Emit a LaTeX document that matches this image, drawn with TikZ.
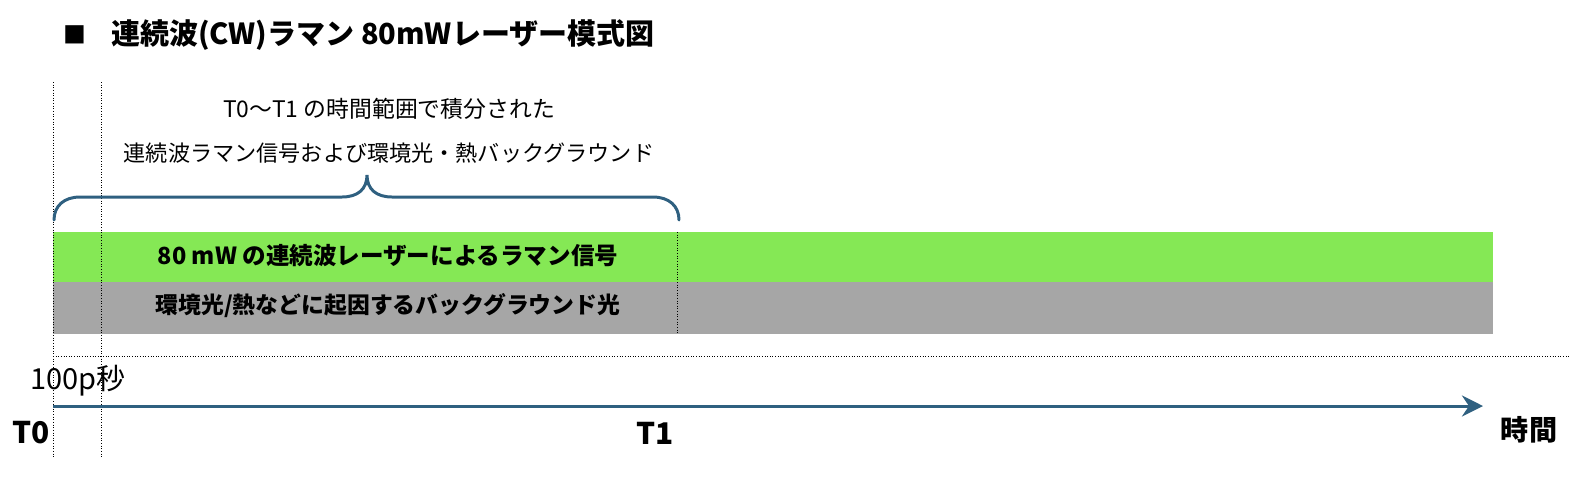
\documentclass[tikz,border=0pt]{standalone}
\usepackage{fontspec}
\setmainfont{Noto Sans CJK JP}
\usetikzlibrary{arrows.meta}
\definecolor{lasergreen}{RGB}{133,232,85}
\definecolor{bggray}{RGB}{166,166,166}
\definecolor{axisblue}{RGB}{47,96,128}
\tikzset{
  guide/.style={draw=black, densely dotted, line width=0.5pt},
  bluepen/.style={draw=axisblue, line width=1.7pt},
}

\begin{document}
\begin{tikzpicture}[x=0.02cm, y=-0.02cm]
    \useasboundingbox (0,0) rectangle (1570,478);
    	\begin{scope}
    	  \fill[lasergreen] (53,232) rectangle (1493,282);
    	  \fill[bggray] (53,282) rectangle (1493,334);
    	  \draw[guide] (53,82) -- (53,457);
    	  \draw[guide] (101,82) -- (101,457);
    	  \draw[guide] (677,232) -- (677,334);
    	  \draw[guide] (53,356) -- (1570,356);
    	  \draw[bluepen, line cap=round] (54,220) .. controls (54,206) and (64,197) .. (80,197) -- (342,197)
    	    .. controls (358,197) and (367,189) .. (367,175) .. controls (367,189) and (376,197) .. (392,197)
    	    -- (653,197) .. controls (669,197) and (679,206) .. (679,220);
    		\node at (75,35) (mark) {\fontsize{13pt}{13pt}\selectfont ■};
    		\node[anchor=west] at (105,35) (title) {\fontsize{16.5pt}{16.5pt}\selectfont\bfseries 連続波(CW)ラマン 80mWレーザー模式図};
    		\node at (389,109) (sumA) {\fontsize{13pt}{13pt}\selectfont T0〜T1 の時間範囲で積分された};
    		\node at (389,153) (sumB) {\fontsize{12.6pt}{12.6pt}\selectfont 連続波ラマン信号および環境光・熱バックグラウンド};
    		\node at (388,256) (raman) {\fontsize{13.4pt}{13.4pt}\selectfont\bfseries 80 mW の連続波レーザーによるラマン信号};
    		\node at (388,306) (noise) {\fontsize{13pt}{13pt}\selectfont\bfseries 環境光/熱などに起因するバックグラウンド光};
    		\node at (78,381) (pulse) {\fontsize{16.5pt}{16.5pt}\selectfont 100p秒};
    		\node at (31,433) (tzero) {\fontsize{17pt}{17pt}\selectfont\bfseries T0};
    		\node at (655,433) (tone) {\fontsize{17pt}{17pt}\selectfont\bfseries T1};
    		\node at (1529,430) (time) {\fontsize{16pt}{16pt}\selectfont\bfseries 時間};
    		\coordinate (start) at (53,406);
    		\coordinate (finish) at (1483,406);
    		\draw[bluepen, -{Stealth[length=12pt, width=12pt, inset=4pt]}] (start) -- (finish);
    	\end{scope}
\end{tikzpicture}
\end{document}
